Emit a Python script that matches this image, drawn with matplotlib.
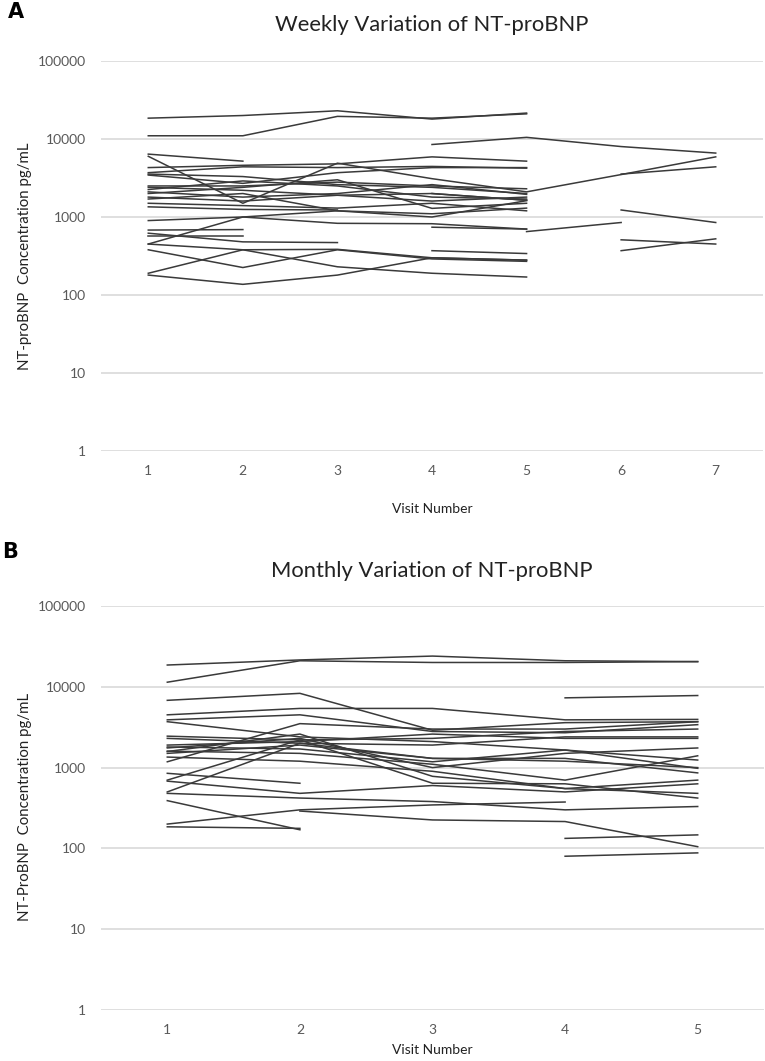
import numpy as np
import matplotlib
matplotlib.use('Agg')
import matplotlib.pyplot as plt

plt.rcParams['font.family'] = ['Lato', 'DejaVu Sans']

# visit numbers
weekly_visits = [1, 2, 3, 4, 5, 6, 7]
monthly_visits = [1, 2, 3, 4, 5]

y_ticks = [1, 10, 100, 1000, 10000, 100000]
y_tick_labels = ['1', '10', '100', '1000', '10000', '100000']

# NT-proBNP (pg/mL) per patient, None = no visit
weekly_patients = [
    [18500, 20000, 23000, 18000, 21500, None, None],
    [11000, 11000, 19500, 18500, 21000, None, None],
    [None, None, None, 8500, 10500, 8000, 6600],
    [6400, 5200, None, None, None, None, None],
    [6000, 1500, 4900, 3100, 2100, 3500, 5900],
    [4300, 4600, 4800, 5900, 5200, None, None],
    [3700, 4400, 4300, 4450, 4230, None, None],
    [3550, 3300, 2600, 2400, 2000, None, None],
    [3450, 2700, 3700, 4300, 4300, None, None],
    [2500, 2500, 2800, 2500, 2300, None, None],
    [2400, 2200, 1900, 2000, 1640, None, None],
    [2250, 2900, 2500, 1800, 1700, None, None],
    [2100, 1800, 2000, 2600, 1950, None, None],
    [2000, 2400, 3000, 1290, 1500, None, None],
    [1800, 1600, 1900, 1600, 1800, None, None],
    [1700, 2000, 1200, 1000, 1620, None, None],
    [1500, 1400, 1300, 1500, 1200, None, None],
    [1350, 1250, 1230, None, None, None, None],
    [None, None, None, 2000, 1640, None, None],
    [None, None, None, None, None, 3550, 4400],
    [900, 1000, 830, 820, 700, None, None],
    [450, 1000, 1200, 1100, 1300, None, None],
    [680, 690, None, None, None, None, None],
    [570, 570, None, None, None, None, None],
    [620, 480, 470, None, None, None, None],
    [None, None, None, 740, 700, None, None],
    [None, None, None, None, 650, 850, None],
    [450, 380, 385, 300, 280, None, None],
    [380, 225, 380, 290, 270, None, None],
    [190, 380, 230, 190, 170, None, None],
    [180, 137, 180, 300, 280, None, None],
    [None, None, None, 370, 340, None, None],
    [None, None, None, None, None, 1230, 850],
    [None, None, None, None, None, 510, 450],
    [None, None, None, None, None, 370, 525],
]

monthly_patients = [
    [18600, 21500, 24000, 21000, 20500],
    [11400, 21000, 20000, 20000, 20500],
    [6800, 8300, 2900, 3600, 3700],
    [4500, 5400, 5400, 3900, 3950],
    [3900, 4500, 2800, 2700, 3400],
    [3700, 2400, 2100, 1650, 1240],
    [None, None, None, 7300, 7800],
    [2450, 2200, 2300, 2800, 3000],
    [2300, 2000, 1900, 2400, 2400],
    [1900, 2100, 2600, 2300, 2300],
    [1800, 1700, 1180, 1650, 980],
    [1750, 2300, 1000, 1500, 1750],
    [1600, 1500, 1100, 700, 1400],
    [1580, 2600, 780, 550, 700],
    [1500, 1900, 1300, 1300, 860],
    [1350, 1200, 900, 550, 480],
    [1180, 3500, 3000, 3000, 3700],
    [850, 640, None, None, None],
    [700, 2200, 640, 630, 420],
    [680, 480, 600, 500, 630],
    [500, 2000, 1300, 1200, 1000],
    [480, 420, 380, 300, 330],
    [390, 170, None, None, None],
    [200, 300, 345, 375, None],
    [185, 177, None, None, None],
    [None, 290, 225, 215, 105],
    [None, None, None, 133, 147],
    [None, None, None, 80, 88],
]

W, H = 765, 1061
fig = plt.figure(figsize=(W / 100, H / 100), dpi=100)

line_color = '#3a3a3a'
grid_color = '#d9d9d9'
text_color = '#595959'
label_color = '#222222'


def fx(px):
    return px / W


def fy(py):
    return 1 - py / H


def draw_panel(ax, visits, patients):
    for row in patients:
        vals = np.array([np.nan if v is None else v for v in row], dtype=float)
        ax.plot(visits, vals, color=line_color, linewidth=1.1)
    ax.set_yscale('log')
    ax.set_ylim(1, 100000)
    ax.set_xlim(0.5, len(visits) + 0.5)
    ax.set_yticks(y_ticks)
    ax.set_yticklabels(y_tick_labels)
    ax.yaxis.set_minor_locator(matplotlib.ticker.NullLocator())
    ax.set_xticks(visits)
    ax.set_xticklabels([str(v) for v in visits])
    for t in y_ticks:
        ax.axhline(t, color=grid_color, linewidth=1.2, zorder=0)
    for s in ax.spines.values():
        s.set_visible(False)
    ax.tick_params(axis='both', length=0, labelsize=10, labelcolor=text_color)
    ax.tick_params(axis='y', pad=11)
    ax.tick_params(axis='x', pad=10)


# panel A
axA = fig.add_axes([fx(101), fy(451), 662 / W, 390 / H])
draw_panel(axA, weekly_visits, weekly_patients)
fig.text(fx(432), fy(25), 'Weekly Variation of NT-proBNP', fontsize=15.8,
         color=label_color, ha='center', va='center')
fig.text(fx(432), fy(509), 'Visit Number', fontsize=10, color=label_color,
         ha='center', va='center')
fig.text(fx(25), fy(256), 'NT-proBNP  Concentration pg/mL', fontsize=10.8,
         color=label_color, ha='center', va='center', rotation=90)

# panel B
axB = fig.add_axes([fx(101), fy(1010), 663 / W, 404 / H])
draw_panel(axB, monthly_visits, monthly_patients)
fig.text(fx(432), fy(571), 'Monthly Variation of NT-proBNP', fontsize=15.8,
         color=label_color, ha='center', va='center')
fig.text(fx(432), fy(1050), 'Visit Number', fontsize=10, color=label_color,
         ha='center', va='center')
fig.text(fx(25), fy(807), 'NT-ProBNP  Concentration pg/mL', fontsize=10.8,
         color=label_color, ha='center', va='center', rotation=90)

fig.text(fx(8), fy(12), 'A', fontsize=15, fontweight='bold', family='DejaVu Sans',
         ha='left', va='center')
fig.text(fx(2), fy(552), 'B', fontsize=15, fontweight='bold', family='DejaVu Sans',
         ha='left', va='center')

fig.savefig('out.png', dpi=100)
